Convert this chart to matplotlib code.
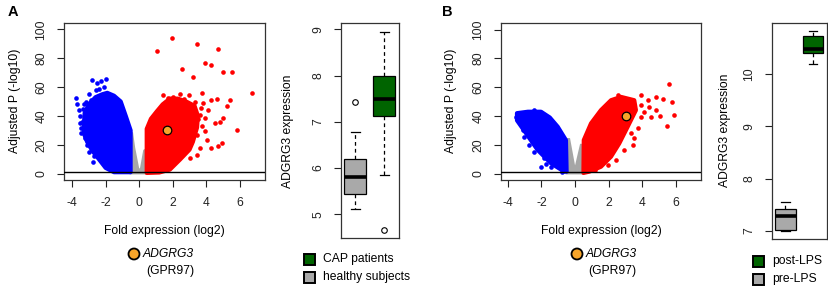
import numpy as np
import matplotlib
matplotlib.use("Agg")
import matplotlib.pyplot as plt
from matplotlib.patches import Polygon, Rectangle, Ellipse

plt.rcParams['font.family'] = ['Liberation Sans', 'DejaVu Sans']

# ---------------- data ----------------
# Panel A volcano: outlines of the dense point clouds + sparse points
A_gray_x = [-0.51, -0.51, 0.45, 0.45, 0.30, 0.10, -0.05, -0.30, -0.42]
A_gray_y = [28, 0.2, 0.2, 17, 16, 3, 3, 18, 28]
A_blue_x = [-3.3, -3.25, -3.0, -2.6, -2.2, -1.9, -1.5, -1.1, -0.8, -0.51, -0.51, -1.5, -2.0, -2.4, -2.8, -3.1, -3.3]
A_blue_y = [33, 42, 48, 53, 55, 56, 54, 50, 40, 30, 1, 1, 4, 10, 16, 22, 28]
A_red_x = [0.45, 0.45, 0.7, 1.04, 1.4, 1.83, 2.3, 2.8, 3.3, 3.5, 3.45, 3.2, 3.0, 2.43, 1.83, 1.2]
A_red_y = [0.5, 31, 38, 43, 48, 52, 52, 50, 47, 40, 32, 22, 16.6, 9.7, 2.8, 0.8]
A_blue_pts_x = [-3.76, -3.68, -3.58, -3.48, -3.5, -3.4, -3.3, -3.45, -3.25, -3.1, -2.89, -2.7, -2.49, -2.29,
                -2.8, -2.5, -2.3, -2.0, -2.1, -2.6, -3.0, -2.4, -2.9, -3.35, -2.75, -1.95, -3.15, -3.55, -3.0]
A_blue_pts_y = [52.6, 48, 44, 31.6, 40, 36, 48, 28, 25, 20, 22.4, 12, 16.6, 9.7,
                64.8, 63, 64.4, 65.5, 60, 58, 55, 59, 51, 45, 8, 6, 50, 35, 15]
A_red_pts_x = [1.93, 1.04, 3.42, 4.67, 3.92, 4.31, 2.53, 3.18, 5.01, 5.56, 6.75, 1.44, 2.43, 2.98,
               3.72, 3.82, 4.31, 4.65, 5.40, 5.24, 4.11, 3.66, 3.62, 3.92, 4.51, 4.81, 5.01, 5.84,
               3.72, 3.92, 3.42, 4.02, 3.62, 4.31, 4.71, 4.91, 3.42, 3.02, 2.0, 2.7, 3.3, 1.7, 3.5]
A_red_pts_y = [94, 85, 89.8, 86.4, 76.7, 75.5, 72.5, 66.7, 70.2, 70.6, 55.9, 54.7, 55.4, 54.7,
               55.9, 49, 50.8, 51.7, 50.8, 46.7, 44.3, 45.5, 40.9, 38.6, 35.1, 35.6, 38.6, 30.5,
               32.8, 29.4, 27, 23.5, 17.8, 17.8, 19, 21.3, 13.2, 10.9, 53, 52, 50, 52.5, 38]
A_gene = (1.63, 30.5)

# Panel B volcano
B_gray_x = [-0.5, -0.5, 0.5, 0.5, 0.35, 0.05, -0.05, -0.35]
B_gray_y = [24, 0.2, 0.2, 20, 20, 5, 5, 24]
B_blue_x = [-3.45, -2.8, -2.02, -1.5, -1.03, -0.54, -0.5, -0.64, -1.43, -2.22, -2.91, -3.45]
B_blue_y = [42, 43, 43, 39, 32.6, 23.3, 1.4, 1.4, 7.2, 16.4, 28, 37]
B_red_x = [0.5, 0.52, 0.95, 1.54, 2.14, 2.73, 3.52, 3.62, 3.13, 2.63, 2.14, 1.54, 0.85]
B_red_y = [0.5, 23.3, 34.9, 44.1, 51, 53.3, 51, 44.1, 32.6, 21, 11.8, 4.8, 1.4]
B_blue_pts_x = [-3.51, -3.22, -3.01, -2.72, -2.02, -1.43, -1.83, -2.62, -2.42, -3.32, -0.8, -2.45, -3.1, -1.7]
B_blue_pts_y = [39, 34.4, 25.6, 19.9, 4.4, 4.8, 10.6, 41.8, 44.1, 41.8, 1.4, 15, 30, 7]
B_red_pts_x = [5.57, 4.81, 5.21, 5.74, 5.9, 5.45, 4.51, 5.07, 4.32, 4.41, 3.92, 4.81, 3.92, 3.73,
               3.52, 3.43, 2.93, 2.44, 1.94, 2.63, 2.54, 3.9, 4.1, 3.3, 1.2]
B_red_pts_y = [62.6, 53.3, 51.5, 49.9, 40.6, 33, 39.5, 40, 51, 46.4, 54.5, 44, 39.5, 31.4,
               24.5, 19.9, 16.4, 9.5, 6, 53.3, 54.5, 48, 43, 28, 2.5]
B_gene = (3.03, 40)

# Boxplot statistics (group 1 = grey, group 2 = green)
A_groups = ['CAP patients', 'healthy subjects']
A_med = [5.80, 7.50]
A_q1 = [5.43, 7.12]
A_q3 = [6.20, 8.00]
A_whislo = [5.12, 5.85]
A_whishi = [6.77, 8.95]
A_fliers = [[7.43], [4.65]]

B_groups = ['post-LPS', 'pre-LPS']
B_med = [7.28, 10.48]
B_q1 = [7.02, 10.41]
B_q3 = [7.42, 10.73]
B_whislo = [7.00, 10.19]
B_whishi = [7.55, 10.83]
B_fliers = [[], []]

volcano_xticks = [-4, -2, 0, 2, 4, 6]
volcano_yticks = [0, 20, 40, 60, 80, 100]
A_box_yticks = [5, 6, 7, 8, 9]
B_box_yticks = [7, 8, 9, 10]

# ---------------- styling ----------------
BLUE = '#0000FF'
RED = '#FF0000'
GRAY = '#A6A6A6'
GREEN = '#006400'
BOXGRAY = '#A9A9A9'
ORANGE = '#F7A52A'
FS = 8.7

W, H = 829, 289
fig = plt.figure(figsize=(W / 100, H / 100), dpi=100)


def ax_px(l, t, r, b):
    return fig.add_axes([l / W, 1 - b / H, (r - l) / W, (b - t) / H])


def fx(x):
    return x / W


def fy(y):
    return 1 - y / H


def style_axis(ax):
    for s in ax.spines.values():
        s.set_linewidth(0.9)
        s.set_color('#333333')
    ax.tick_params(direction='out', length=5, width=0.8, labelsize=FS, pad=7, colors='#222222')


def volcano(ax, gx, gy, bx, by, rx, ry, bpx, bpy, rpx, rpy, gene, xlim):
    ax.add_patch(Polygon(np.column_stack([gx, gy]), closed=True, fc=GRAY, ec=GRAY, lw=1.5, zorder=1))
    ax.add_patch(Polygon(np.column_stack([bx, by]), closed=True, fc=BLUE, ec=BLUE, lw=3,
                         joinstyle='round', zorder=2))
    ax.add_patch(Polygon(np.column_stack([rx, ry]), closed=True, fc=RED, ec=RED, lw=3,
                         joinstyle='round', zorder=2))
    ax.scatter(bpx, bpy, s=11, c=BLUE, lw=0, zorder=3)
    ax.scatter(rpx, rpy, s=11, c=RED, lw=0, zorder=3)
    ax.axhline(1.3, color='black', lw=1, zorder=4)
    ax.scatter([gene[0]], [gene[1]], s=38, c=ORANGE, edgecolors='black', linewidths=0.9, zorder=5)
    ax.set_xlim(*xlim)
    ax.set_ylim(-4.4, 104.4)
    ax.set_xticks(volcano_xticks)
    ax.set_xticklabels([str(v) for v in volcano_xticks])
    ax.set_yticks(volcano_yticks)
    ax.set_yticklabels([str(v) for v in volcano_yticks], rotation=90, va='center')
    style_axis(ax)


def boxes(ax, med, q1, q3, lo, hi, fl, ylim, yticks):
    stats = []
    for i in range(2):
        stats.append(dict(med=med[i], q1=q1[i], q3=q3[i], whislo=lo[i], whishi=hi[i], fliers=fl[i]))
    bp = ax.bxp(stats, positions=[1, 2], widths=0.75, capwidths=0.3, patch_artist=True,
                boxprops=dict(lw=0.9, edgecolor='black'),
                medianprops=dict(color='black', lw=2.6, solid_capstyle='butt'),
                whiskerprops=dict(color='black', lw=0.9, linestyle=(0, (3, 2.5))),
                capprops=dict(color='black', lw=0.9),
                flierprops=dict(marker='o', markerfacecolor='none', markeredgecolor='black',
                                markersize=4, markeredgewidth=0.8))
    bp['boxes'][0].set_facecolor(BOXGRAY)
    bp['boxes'][1].set_facecolor(GREEN)
    ax.set_xlim(0.5, 2.5)
    ax.set_ylim(*ylim)
    ax.set_xticks([])
    ax.set_yticks(yticks)
    ax.set_yticklabels([str(v) for v in yticks], rotation=90, va='center')
    style_axis(ax)


# ---------------- panel A ----------------
axA = ax_px(64, 23, 265, 180)
volcano(axA, A_gray_x, A_gray_y, A_blue_x, A_blue_y, A_red_x, A_red_y,
        A_blue_pts_x, A_blue_pts_y, A_red_pts_x, A_red_pts_y, A_gene, (-4.48, 7.5))
fig.text(fx(15), fy(101), 'Adjusted P (-log10)', rotation=90, ha='center', va='center', fontsize=FS)
fig.text(fx(164), fy(231), 'Fold expression (log2)', ha='center', va='center', fontsize=FS)

axAb = ax_px(340.7, 23.3, 399, 237.7)
boxes(axAb, A_med, A_q1, A_q3, A_whislo, A_whishi, A_fliers, (4.49, 9.13), A_box_yticks)
fig.text(fx(288), fy(131), 'ADGRG3 expression', rotation=90, ha='center', va='center', fontsize=FS)

# ---------------- panel B ----------------
axB = ax_px(501, 23.3, 700.7, 180)
volcano(axB, B_gray_x, B_gray_y, B_blue_x, B_blue_y, B_red_x, B_red_y,
        B_blue_pts_x, B_blue_pts_y, B_red_pts_x, B_red_pts_y, B_gene, (-4.4, 7.47))
fig.text(fx(451), fy(101), 'Adjusted P (-log10)', rotation=90, ha='center', va='center', fontsize=FS)
fig.text(fx(601), fy(231), 'Fold expression (log2)', ha='center', va='center', fontsize=FS)

axBb = ax_px(771.7, 23.3, 826.7, 239.3)
boxes(axBb, B_med, B_q1, B_q3, B_whislo, B_whishi, B_fliers, (6.84, 10.97), B_box_yticks)
fig.text(fx(725), fy(130), 'ADGRG3 expression', rotation=90, ha='center', va='center', fontsize=FS)

# ---------------- annotations / legends ----------------
for cx, tx, gx_ in [(134, 143, 170), (577, 586, 612)]:
    fig.add_artist(Ellipse((fx(cx), fy(254)), width=11 / W, height=11 / H, transform=fig.transFigure,
                           fc=ORANGE, ec='black', lw=1.3))
    fig.text(fx(tx), fy(254), 'ADGRG3', style='italic', ha='left', va='center', fontsize=FS)
    fig.text(fx(gx_), fy(271), '(GPR97)', ha='center', va='center', fontsize=FS)

for (sx, ty, labels) in [(304, (259, 277), A_groups), (753, (261, 279), B_groups)]:
    for y, lab, col in zip(ty, labels, [GREEN, BOXGRAY]):
        fig.add_artist(Rectangle((fx(sx), fy(y + 5.5)), 11 / W, 11 / H, transform=fig.transFigure,
                                 fc=col, ec='black', lw=1.4))
        fig.text(fx(sx + 19), fy(y), lab, ha='left', va='center', fontsize=FS)

fig.text(fx(8), fy(12), 'A', fontweight='bold', ha='left', va='center', fontsize=10.5)
fig.text(fx(442), fy(12), 'B', fontweight='bold', ha='left', va='center', fontsize=10.5)

fig.savefig('out.png', dpi=100)
